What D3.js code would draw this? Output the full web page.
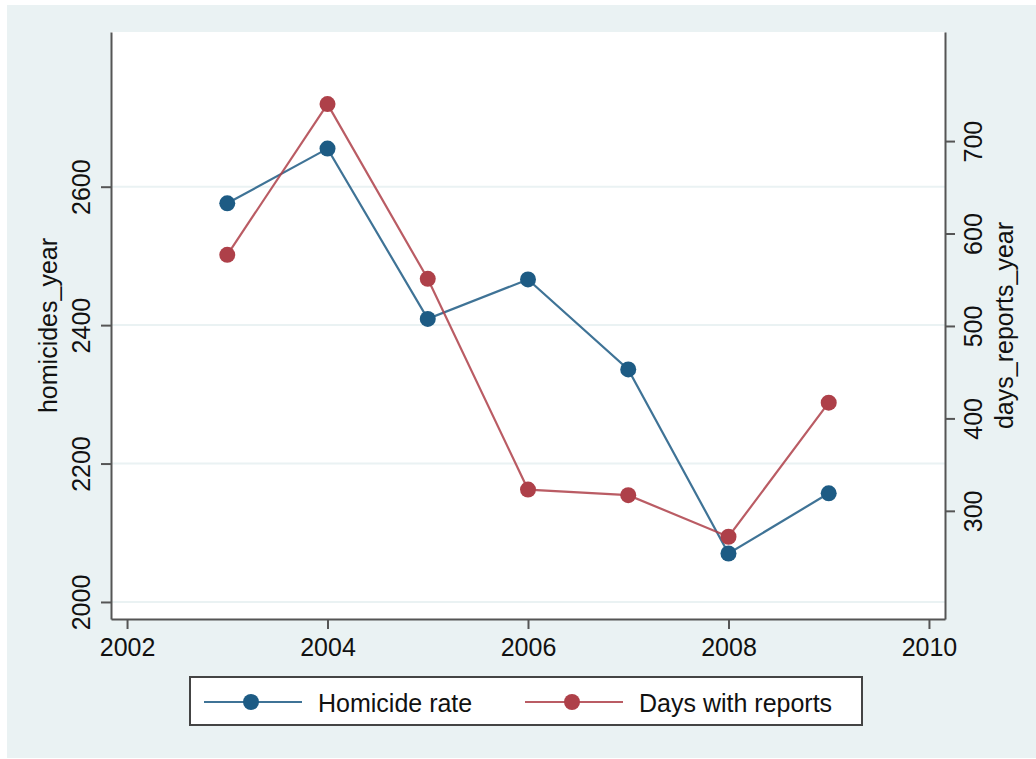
<!DOCTYPE html>
<html>
<head>
<meta charset="utf-8">
<script src="https://cdn.jsdelivr.net/npm/d3@7"></script>
<style>
  body { margin: 0; background: #fff; }
  svg text { font-family: "Liberation Sans", Arial, Helvetica, sans-serif; fill: #111; }
</style>
</head>
<body>
<svg id="chart" width="1036" height="759"></svg>
<script>
// values
const years = [2003, 2004, 2005, 2006, 2007, 2008, 2009];
const homicides = [2576, 2655, 2409, 2466, 2336, 2070, 2157];
const daysReports = [577, 740, 551, 323, 317, 272, 417];

const xTicks = [2002, 2004, 2006, 2008, 2010];
const leftTicks = [2000, 2200, 2400, 2600];
const rightTicks = [300, 400, 500, 600, 700];

const seriesNames = ["Homicide rate", "Days with reports"];
const seriesColors = ["#1d5b84", "#ae4049"];

const svg = d3.select("#chart");

// plot region
const plot = {left: 111, right: 945, top: 32, bottom: 619};

// graph region background
svg.append("rect")
  .attr("x", 7).attr("y", 5)
  .attr("width", 1029).attr("height", 753)
  .attr("fill", "#eaf2f3");

svg.append("rect")
  .attr("x", plot.left).attr("y", plot.top)
  .attr("width", plot.right - plot.left).attr("height", plot.bottom - plot.top)
  .attr("fill", "#fff");

const x = d3.scaleLinear()
  .domain([2001.84, 2010.16])
  .range([plot.left, plot.right]);

const yLeft = d3.scaleLinear()
  .domain([1975.4, 2823.5])
  .range([plot.bottom, plot.top]);

const yRight = d3.scaleLinear()
  .domain([183, 818])
  .range([plot.bottom, plot.top]);

// gridlines from the left axis
svg.append("g")
  .selectAll("line")
  .data(leftTicks)
  .join("line")
    .attr("x1", plot.left).attr("x2", plot.right)
    .attr("y1", d => yLeft(d)).attr("y2", d => yLeft(d))
    .attr("stroke", "#eaf2f3")
    .attr("stroke-width", 2);

// axes
const axisStyle = g => {
  g.selectAll(".domain").attr("stroke", "#555").attr("stroke-width", 2);
  g.selectAll(".tick line").attr("stroke", "#555").attr("stroke-width", 2);
  g.selectAll("text").attr("fill", "#111").style("font-size", "25px");
};

svg.append("g")
  .attr("transform", `translate(0,${plot.bottom})`)
  .call(d3.axisBottom(x).tickValues(xTicks).tickFormat(d3.format("d"))
    .tickSize(10).tickSizeOuter(0).tickPadding(9))
  .call(axisStyle);

svg.append("g")
  .attr("transform", `translate(${plot.left},0)`)
  .call(d3.axisLeft(yLeft).tickValues(leftTicks).tickFormat(d3.format("d"))
    .tickSize(10).tickSizeOuter(0))
  .call(axisStyle)
  .call(g => g.selectAll(".tick text")
    .attr("x", 0).attr("y", -21).attr("dy", null)
    .attr("transform", "rotate(-90)")
    .style("text-anchor", "middle"));

svg.append("g")
  .attr("transform", `translate(${plot.right},0)`)
  .call(d3.axisRight(yRight).tickValues(rightTicks).tickFormat(d3.format("d"))
    .tickSize(10).tickSizeOuter(0))
  .call(axisStyle)
  .call(g => g.selectAll(".tick text")
    .attr("x", 0).attr("y", 37).attr("dy", null)
    .attr("transform", "rotate(-90)")
    .style("text-anchor", "middle"));

// axis titles
svg.append("text")
  .attr("transform", `translate(57,${(plot.top + plot.bottom) / 2}) rotate(-90)`)
  .attr("text-anchor", "middle")
  .style("font-size", "25px")
  .text("homicides_year");

svg.append("text")
  .attr("transform", `translate(1013,${(plot.top + plot.bottom) / 2}) rotate(-90)`)
  .attr("text-anchor", "middle")
  .style("font-size", "25px")
  .text("days_reports_year");

// series
const series = [
  {name: seriesNames[0], color: seriesColors[0], values: homicides, y: yLeft},
  {name: seriesNames[1], color: seriesColors[1], values: daysReports, y: yRight}
];

series.forEach(s => {
  const pts = years.map((yr, i) => [yr, s.values[i]]);
  const line = d3.line().x(d => x(d[0])).y(d => s.y(d[1]));
  svg.append("path")
    .datum(pts)
    .attr("d", line)
    .attr("fill", "none")
    .attr("stroke", s.color)
    .attr("stroke-width", 2.2)
    .attr("stroke-opacity", 0.85);
  svg.append("g")
    .selectAll("circle")
    .data(pts)
    .join("circle")
      .attr("cx", d => x(d[0]))
      .attr("cy", d => s.y(d[1]))
      .attr("r", 8)
      .attr("fill", s.color);
});

// legend
const legend = svg.append("g");
legend.append("rect")
  .attr("x", 190).attr("y", 677)
  .attr("width", 672).attr("height", 48)
  .attr("fill", "#fff")
  .attr("stroke", "#444")
  .attr("stroke-width", 2);

const legendX = [204, 525];
series.forEach((s, i) => {
  const g = legend.append("g").attr("transform", `translate(${legendX[i]},702)`);
  g.append("line")
    .attr("x1", 0).attr("x2", 98)
    .attr("stroke", s.color).attr("stroke-width", 2.2).attr("stroke-opacity", 0.85);
  g.append("circle").attr("cx", 47).attr("r", 8).attr("fill", s.color);
  g.append("text")
    .attr("x", 114).attr("y", 10)
    .style("font-size", "25px")
    .text(s.name);
});
</script>
</body>
</html>
